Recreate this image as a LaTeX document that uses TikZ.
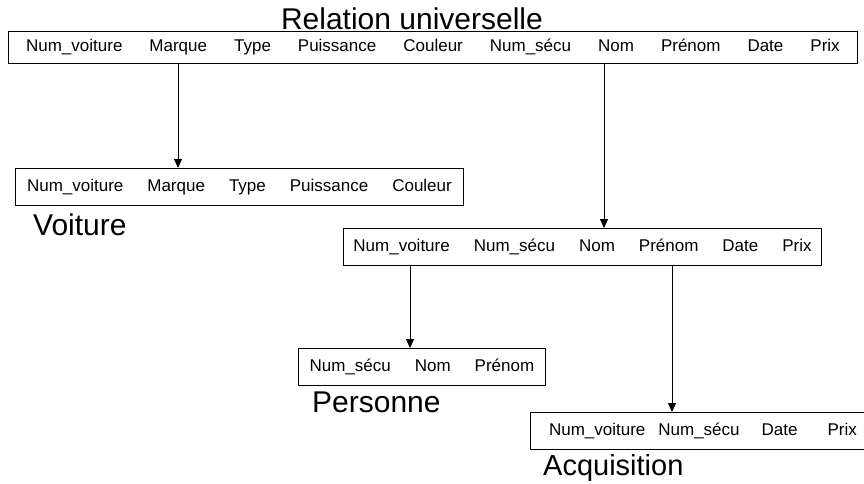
\documentclass[tikz,border=0pt]{standalone}
\usepackage{fontspec}
\setmainfont{Liberation Sans}
\usetikzlibrary{arrows.meta, positioning}
\newcommand{\attsep}{\hspace{24pt}}

\begin{document}
\begin{tikzpicture}[x=1pt, y=-1pt, >=Triangle,
    relbox/.style={rectangle, draw, line width=0.9pt, anchor=north west, minimum height=37pt, inner xsep=10pt, font=\fontsize{17}{20}\selectfont},
    relname/.style={inner sep=0pt, font=\fontsize{30}{34}\selectfont},
    arrow/.style={line width=0.9pt, -{Triangle[width=8pt,length=9pt]}}]

    \useasboundingbox (0,0) rectangle (864,483);

    % relations
    \node (univ) [relbox, minimum width=849pt, minimum height=32pt] at (8,31)
        {Num\_voiture\hspace{27pt}Marque\hspace{27pt}Type\hspace{27pt}Puissance\hspace{27pt}Couleur\hspace{27pt}Num\_sécu\hspace{27pt}Nom\hspace{27pt}Prénom\hspace{27pt}Date\hspace{27pt}Prix};
    \node (voit) [relbox, minimum width=448pt] at (15,168)
        {Num\_voiture\attsep Marque\attsep Type\attsep Puissance\attsep Couleur};
    \node (inter) [relbox, minimum width=472pt] at (343,228)
        {Num\_voiture\attsep Num\_sécu\attsep Nom\attsep Prénom\attsep Date\attsep Prix};
    \node (pers) [relbox, minimum width=247pt] at (298,348)
        {Num\_sécu\attsep Nom\attsep Prénom};
    \node (acq) [relbox, minimum width=345pt] at (530,412)
        {Num\_voiture\hspace{13pt}Num\_sécu\hspace{22pt}Date\hspace{30pt}Prix\hspace{6pt}};

    % titles
    \node (t-univ) [relname, above=1pt of univ, xshift=-21pt] {Relation universelle};
    \node (t-voit) [relname, below right=8pt and 18pt of voit.south west] {Voiture};
    \node (t-pers) [relname, below right=6pt and 14pt of pers.south west] {Personne};
    \node (t-acq)  [relname, font=\fontsize{29}{33}\selectfont, below right=4pt and 13pt of acq.south west] {Acquisition};

    % decomposition
    \coordinate (voit-in)  at ([xshift=163pt]voit.north west);
    \coordinate (inter-in) at ([xshift=261pt]inter.north west);
    \coordinate (pers-in)  at ([xshift=112pt]pers.north west);
    \coordinate (acq-in)   at ([xshift=142pt]acq.north west);

    \draw [arrow] (univ.south -| voit-in) -- (voit-in);
    \draw [arrow] (univ.south -| inter-in) -- (inter-in);
    \draw [arrow] (inter.south -| pers-in) -- (pers-in);
    \draw [arrow] (inter.south -| acq-in) -- (acq-in);
\end{tikzpicture}
\end{document}
